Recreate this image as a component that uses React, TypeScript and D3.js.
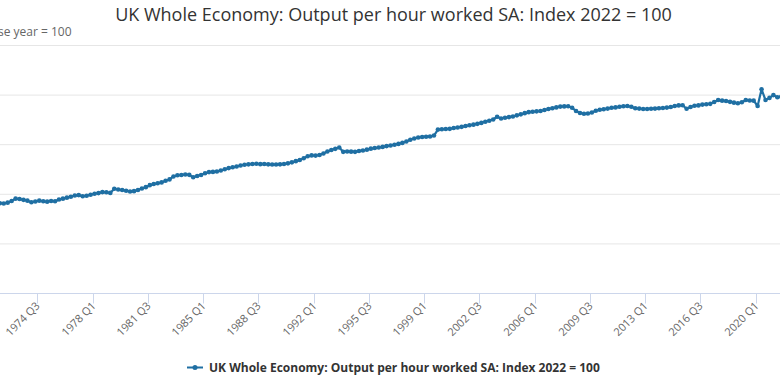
import React from "react";
import * as d3 from "d3";

const startYear = 1971;
const values: number[] = [
  44.0, 44.3, 44.6, 45.0,
  45.5, 45.4, 45.8, 46.6,
  47.8, 47.6, 47.2, 46.8,
  46.0, 46.4, 46.8, 46.5,
  46.3, 46.6, 46.5, 47.4,
  47.8, 48.3, 48.8, 49.4,
  49.6, 49.0, 49.3, 49.8,
  50.3, 50.6, 51.1, 51.0,
  50.7, 52.8, 52.4, 52.2,
  51.8, 51.4, 51.6, 52.2,
  52.9, 53.6, 54.6, 55.2,
  55.6, 56.0, 56.8, 57.5,
  59.0, 59.6, 59.7, 60.0,
  59.8, 58.6, 59.2, 59.7,
  60.6, 61.2, 61.3, 61.5,
  62.0, 62.6, 63.2, 63.6,
  64.0, 64.5, 64.9, 65.1,
  65.3, 65.4, 65.2, 65.3,
  65.1, 65.0, 65.0, 65.1,
  65.3, 65.6, 66.1, 66.7,
  67.3, 68.2, 69.2, 69.6,
  69.5, 69.8, 70.6, 71.6,
  72.3, 72.9, 73.6, 71.4,
  71.6, 71.5, 71.4, 71.8,
  72.1, 72.5, 73.0, 73.3,
  73.6, 73.9, 74.3, 74.6,
  75.0, 75.4, 75.9, 76.6,
  77.5, 78.1, 78.6, 78.9,
  79.0, 79.1, 79.6, 82.6,
  82.8, 82.9, 83.0, 83.4,
  83.7, 84.0, 84.4, 84.8,
  85.1, 85.5, 86.0, 86.6,
  87.1, 87.7, 89.1, 88.2,
  88.6, 88.9, 89.2, 89.8,
  90.3, 90.9, 91.4, 91.6,
  91.8, 92.0, 92.5, 93.0,
  93.4, 93.8, 94.2, 94.3,
  94.4, 93.6, 92.0, 91.0,
  90.6, 90.7, 91.2, 92.1,
  92.6, 92.9, 93.2, 93.6,
  93.8, 94.1, 94.4, 94.5,
  94.1, 93.4, 93.2, 93.0,
  93.0, 93.1, 93.2, 93.4,
  93.5, 93.7, 94.0, 94.5,
  94.8, 94.9, 93.1, 94.0,
  94.6, 94.8, 95.2, 95.4,
  95.6, 96.5, 97.5, 97.2,
  97.0, 96.6, 96.2, 95.9,
  96.4, 97.5, 97.3, 97.2,
  94.5, 102.9, 97.5, 98.6,
  100.0, 98.9, 99.2, 99.6,
  100.3, 100.0, 99.8, 99.9,
  99.8, 99.6, 99.4, 99.3,
  99.6, 99.8,
];
const quarters: string[] = values.map(
  (_, i) => `${startYear + Math.floor(i / 4)} Q${(i % 4) + 1}`
);
const tickLabels: string[] = [
  "1971 Q1", "1974 Q3", "1978 Q1", "1981 Q3", "1985 Q1", "1988 Q3",
  "1992 Q1", "1995 Q3", "1999 Q1", "2002 Q3", "2006 Q1", "2009 Q3",
  "2013 Q1", "2016 Q3", "2020 Q1",
];
const yTicks: number[] = [0, 25, 50, 75, 100, 125];

const title = "UK Whole Economy: Output per hour worked SA: Index 2022 = 100";
const subtitle = "Base year = 100";
const seriesName = "UK Whole Economy: Output per hour worked SA: Index 2022 = 100";

const W = 780;
const H = 382;
const COLOR = "#1f6fa3";
const FONT = "'Open Sans', sans-serif";

export default function App() {
  const step = 3.947;
  const x0 = 37.3 - 14 * step;
  const x = d3
    .scaleBand<string>()
    .domain(quarters)
    .range([x0, x0 + step * quarters.length])
    .paddingInner(0)
    .paddingOuter(0);
  const y = d3.scaleLinear().domain([0, 125]).range([293.5, 45.5]);
  const cx = (i: number) => (x(quarters[i]) as number) + x.bandwidth() / 2;
  const line = d3
    .line<number>()
    .x((_, i) => cx(i))
    .y((d) => y(d));

  return (
    <svg
      width={W}
      height={H}
      style={{ position: "absolute", left: 0, top: 0, background: "#fff" }}
      fontFamily={FONT}
    >
      <rect x={0} y={0} width={W} height={H} fill="#fff" />
      {yTicks.map((t) =>
        t === 0 ? null : (
          <line key={t} x1={0} x2={W} y1={y(t)} y2={y(t)} stroke="#e6e6e6" strokeWidth={1} />
        )
      )}
      <line x1={0} x2={W} y1={y(0)} y2={y(0)} stroke="#ccd6eb" strokeWidth={1} />
      {tickLabels.map((lab) => {
        const tx = Math.round(x(lab) as number) + 0.5;
        return (
          <g key={lab}>
            <line x1={tx} x2={tx} y1={y(0)} y2={y(0) + 10} stroke="#ccd6eb" strokeWidth={1} />
            <text
              transform={`translate(${tx + 3},${y(0) + 13}) rotate(-45)`}
              textAnchor="end"
              fontSize={11}
              fill="#666"
            >
              {lab}
            </text>
          </g>
        );
      })}
      <path d={line(values) || ""} fill="none" stroke={COLOR} strokeWidth={2.2} strokeLinejoin="round" />
      {values.map((v, i) => (
        <circle key={i} cx={cx(i)} cy={y(v)} r={2.3} fill={COLOR} />
      ))}
      <text x={393.5} y={21} textAnchor="middle" fontSize={18} fill="#333">
        {title}
      </text>
      <text x={71.5} y={36} textAnchor="end" fontSize={12} fill="#666">
        {subtitle}
      </text>
      <g>
        <line x1={187} x2={203} y1={367.5} y2={367.5} stroke={COLOR} strokeWidth={2} />
        <circle cx={195} cy={367.5} r={2.5} fill={COLOR} />
        <text x={209} y={372} fontSize={12} fontWeight="bold" fill="#333">
          {seriesName}
        </text>
      </g>
    </svg>
  );
}
